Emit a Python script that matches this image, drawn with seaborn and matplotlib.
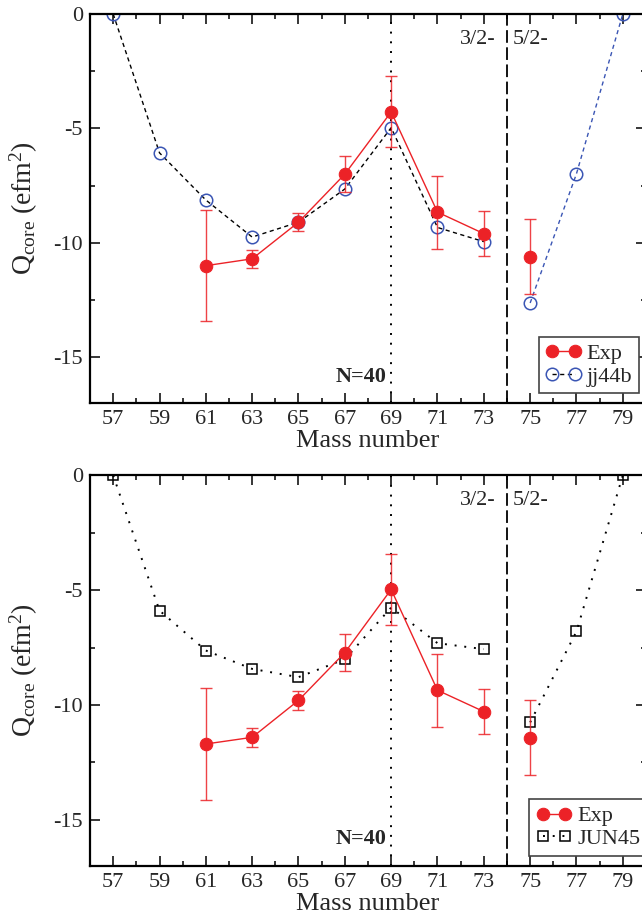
import numpy as np
import pandas as pd
import seaborn as sns
import matplotlib.pyplot as plt
from matplotlib.ticker import FixedLocator, MultipleLocator

# data
mass_exp = [61, 63, 65, 67, 69, 71, 73, 75]
exp_top = [-11.0, -10.7, -9.1, -7.0, -4.28, -8.66, -9.6, -10.6]
err_top = [2.43, 0.4, 0.4, 0.8, 1.55, 1.6, 0.97, 1.62]
exp_bot = [-11.7, -11.41, -9.8, -7.72, -4.97, -9.36, -10.29, -11.42]
err_bot = [2.42, 0.4, 0.4, 0.8, 1.55, 1.6, 0.97, 1.63]

mass_th = [57, 59, 61, 63, 65, 67, 69, 71, 73, 75, 77, 79]
jj44b = [0.0, -6.07, -8.13, -9.75, -9.1, -7.65, -4.97, -9.33, -9.95, -12.63, -6.98, 0.0]
jun45 = [0.0, -5.89, -7.63, -8.43, -8.79, -8.01, -5.76, -7.31, -7.57, -10.76, -6.80, 0.0]

xticks = list(range(57, 80, 2))
yticks = [0, -5, -10, -15]

sns.set_style('ticks')
plt.rcParams['font.family'] = ['Liberation Serif', 'DejaVu Serif']
plt.rcParams['mathtext.fontset'] = 'stix'
plt.rcParams['axes.unicode_minus'] = False

red = '#EC2227'
blue = '#3A55B4'


def draw_panel(ax, exp, err, th, th_name, leg_x):
    n = 7  # points up to A=73 (3/2- ground states)
    df_th = pd.DataFrame({'A': mass_th, 'Q': th})
    if th_name == 'jj44b':
        kw = dict(linestyle=(0, (3, 2.5)), lw=1, marker='o', markersize=9,
                  markerfacecolor='none', markeredgecolor=blue, mew=1.1)
        sns.lineplot(data=df_th.iloc[:9], x='A', y='Q', ax=ax, color='black', **kw)
        sns.lineplot(data=df_th.iloc[9:], x='A', y='Q', ax=ax, color=blue, **kw)
    else:
        kw = dict(linestyle=(0, (1, 4)), lw=1.4, marker='s', markersize=7.5,
                  markerfacecolor='none', markeredgecolor='black', mew=1.1)
        sns.lineplot(data=df_th.iloc[:9], x='A', y='Q', ax=ax, color='black', **kw)
        sns.lineplot(data=df_th.iloc[9:], x='A', y='Q', ax=ax, color='black', **kw)
    th_line = ax.lines[0]

    ax.errorbar(mass_exp, exp, yerr=err, fmt='none', ecolor=red, elinewidth=1,
                capsize=4.5, capthick=1, alpha=0.85, zorder=3)
    df_exp = pd.DataFrame({'A': mass_exp, 'Q': exp})
    sns.lineplot(data=df_exp.iloc[:n], x='A', y='Q', ax=ax, color=red, lw=1,
                 marker='o', markersize=9, markeredgecolor=red, zorder=4)
    sns.lineplot(data=df_exp.iloc[n:], x='A', y='Q', ax=ax, color=red, lw=1,
                 marker='o', markersize=9, markeredgecolor=red, zorder=4)
    exp_line = ax.lines[-2]

    ax.axvline(69, color='black', linestyle=(0, (1, 4)), lw=1.4, zorder=1)
    ax.axvline(74, color='black', linestyle=(0, (7, 2.5)), lw=1.3, zorder=1)
    ax.text(73.5, -1.1, '3/2-', ha='right', va='center', fontsize=16)
    ax.text(74.25, -1.1, '5/2-', ha='left', va='center', fontsize=16)
    ax.text(68.8, -15.85, 'N=40', ha='right', va='center', fontsize=16,
            fontweight='bold')

    ax.set_xlim(56, 80)
    ax.set_ylim(-17, 0)
    ax.xaxis.set_major_locator(FixedLocator(xticks))
    ax.xaxis.set_minor_locator(MultipleLocator(1))
    ax.yaxis.set_major_locator(FixedLocator(yticks))
    ax.yaxis.set_minor_locator(MultipleLocator(2.5))
    ax.tick_params(which='both', direction='in', top=True, right=True,
                   labelsize=16, width=1.1, color='black')
    ax.tick_params(which='major', length=7, pad=5)
    ax.tick_params(which='minor', length=3.5)
    for s in ax.spines.values():
        s.set_linewidth(1.6)
        s.set_color('black')
    ax.set_xlabel('Mass number', fontsize=19, labelpad=1)
    ax.set_ylabel(r'$\mathregular{Q_{core}\ (efm^2)}$', fontsize=20, labelpad=10)

    leg = ax.legend([exp_line, th_line], ['Exp', th_name], loc='lower left',
                    bbox_to_anchor=(leg_x, 0.025), fontsize=16, numpoints=2,
                    handlelength=1.6, handletextpad=0.25, borderpad=0.3,
                    labelspacing=0.1, borderaxespad=0, fancybox=False,
                    framealpha=1)
    leg.get_frame().set_edgecolor('#444444')
    leg.get_frame().set_linewidth(1.2)


fig = plt.figure(figsize=(6.42, 9.19), dpi=100)
ax1 = fig.add_axes([0.1402, 0.5615, 0.866, 0.4233])
ax2 = fig.add_axes([0.1402, 0.058, 0.866, 0.4248])
draw_panel(ax1, exp_top, err_top, jj44b, 'jj44b', 0.8075)
draw_panel(ax2, exp_bot, err_bot, jun45, 'JUN45', 0.79)

fig.savefig('out.png', dpi=100)
